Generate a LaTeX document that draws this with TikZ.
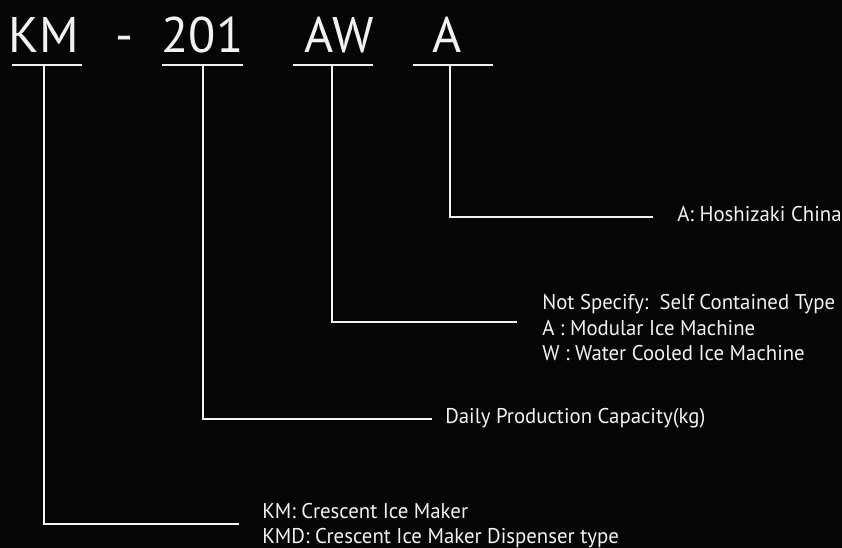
\documentclass[tikz,border=0pt]{standalone}
\usepackage{fontspec}
\setmainfont{PT Sans}
\newfontfamily\descfont[FakeStretch=0.975]{PT Sans}
\usetikzlibrary{positioning}
\definecolor{bg}{HTML}{050505}
\definecolor{ink}{HTML}{F2F2F2}

\begin{document}
\begin{tikzpicture}[
  x=0.75pt, y=-0.75pt,
  code/.style={font=\fontsize{37.5}{40}\selectfont, text=ink, inner sep=0pt, anchor=base},
  desc/.style={font=\descfont\fontsize{16}{19.2}\selectfont, text=ink, inner sep=0pt, anchor=base west, align=left},
  bar/.style={draw=ink, line width=1.5pt},
  lead/.style={draw=ink, line width=1.5pt},
]

% ---------- canvas ----------
\useasboundingbox (0,0) rectangle (842,548);
\fill[bg] (0,0) rectangle (842,548);

% ---------- model code ----------
\node[code] (KM)   at (44,53)    {KM};
\node[code] (dash) at (124,53)   {-};
\node[code] (C201) at (202.5,53) {201};
\node[code] (AW)   at (339,53)   {AW};
\node[code] (A)    at (447.5,53) {A};

% ---------- underlines + ticks ----------
\draw[bar] (12,65)  -- (82,65);
\draw[bar] (162,65) -- (243,65);
\draw[bar] (293,65) -- (373,65);
\draw[bar] (413,65) -- (493,65);
\coordinate (tKM)  at (44,65);
\coordinate (t201) at (203,65);
\coordinate (tAW)  at (332,65);
\coordinate (tA)   at (450,65);

% ---------- descriptions (base = last line) ----------
\node[desc] (dA)   at (677,222) {A: Hoshizaki China};
\node[desc] (dAW)  at (542,361) {Not Specify:\ \ Self Contained Type\\A : Modular Ice Machine\\W : Water Cooled Ice Machine};
\node[desc] (d201) at (445,424) {Daily Production Capacity(kg)};
\node[desc, font=\descfont\fontsize{16}{18.75}\selectfont] (dKM) at (262,543)
  {KM: Crescent Ice Maker\\KMD: Crescent Ice Maker Dispenser type};

% ---------- leader ends ----------
\coordinate (eA)   at (653,217);
\coordinate (eAW)  at (517,322);
\coordinate (e201) at (432,419);
\coordinate (eKM)  at (239,524);

% ---------- leaders ----------
\draw[lead] (tA)   |- (eA);
\draw[lead] (tAW)  |- (eAW);
\draw[lead] (t201) |- (e201);
\draw[lead] (tKM)  |- (eKM);

\end{tikzpicture}
\end{document}
